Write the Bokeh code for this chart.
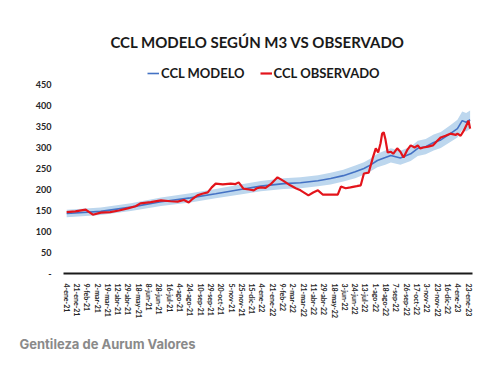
from bokeh.plotting import figure
from bokeh.models import Range1d, FixedTicker, Legend, LegendItem, Title, Label
from bokeh.embed import file_html
from bokeh.resources import INLINE

# ---- data (observation index = business-day count from 4-ene-21) ----
tick_labels = ["4-ene-21", "21-ene-21", "9-feb-21", "2-mar-21", "19-mar-21", "12-abr-21",
               "29-abr-21", "18-may-21", "8-jun-21", "28-jun-21", "16-jul-21", "4-ago-21",
               "24-ago-21", "10-sep-21", "29-sep-21", "20-oct-21", "5-nov-21", "25-nov-21",
               "15-dic-21", "4-ene-22", "21-ene-22", "9-feb-22", "2-mar-22", "21-mar-22",
               "11-abr-22", "29-abr-22", "18-may-22", "3-jun-22", "24-jun-22", "13-jul-22",
               "1-ago-22", "18-ago-22", "7-sep-22", "26-sep-22", "17-oct-22", "3-nov-22",
               "23-nov-22", "16-dic-22", "4-ene-23", "23-ene-23"]
tick_pos = [i * 13 for i in range(len(tick_labels))]

obs_x = [0, 11, 24, 33, 43, 55, 66, 77, 87, 93, 106, 119, 131, 140, 148, 154, 159, 165,
         171, 178, 183, 188, 197, 207, 213, 217, 223, 230, 236, 240, 245, 251, 257, 266,
         274, 282, 289, 295, 300, 305, 311, 317, 323, 333, 342, 346, 352, 358, 366, 371,
         375, 381, 386, 390, 393, 396, 398, 400, 402, 405, 409, 412, 417, 421, 425, 430,
         434, 439, 443, 446, 450, 456, 462, 467, 472, 478, 484, 491, 493, 497, 501, 504,
         507, 509]
obs_y = [146, 148, 152, 140, 145, 146, 150, 155, 160, 167, 170, 174, 172, 171, 175, 169,
         178, 186, 190, 193, 205, 214, 212, 214, 213, 217, 202, 200, 198, 203, 205, 204,
         212, 229, 220, 210, 203, 198, 192, 186, 193, 198, 188, 188, 188, 207, 203, 205,
         208, 210, 238, 240, 274, 298, 288, 310, 333, 336, 321, 288, 290, 285, 298, 290,
         276, 295, 305, 300, 305, 298, 300, 302, 305, 315, 324, 328, 333, 330, 333, 328,
         340, 352, 364, 345]

mod_x = [0, 43, 81, 119, 156, 188, 219, 245, 274, 295, 317, 333, 349, 364, 375, 383,
         392, 402, 409, 421, 434, 443, 453, 463, 472, 484, 493, 499, 504, 509]
mod_y = [143, 148, 158, 171, 180, 190, 200, 208, 214, 216, 221, 226, 233, 242, 250, 258,
         269, 276, 281, 275, 285, 298, 302, 312, 318, 333, 345, 364, 360, 366]
mod_lo = [134, 139, 149, 161, 169, 179, 188, 196, 201, 203, 208, 212, 219, 227, 235, 243,
          253, 259, 264, 259, 268, 280, 284, 293, 299, 313, 324, 342, 338, 344]
mod_hi = [152, 157, 167, 181, 191, 201, 212, 220, 227, 229, 234, 240, 247, 257, 265, 273,
          285, 293, 298, 292, 302, 316, 320, 331, 337, 353, 366, 386, 382, 388]

y_ticks = [0, 50, 100, 150, 200, 250, 300, 350, 400, 450]

# ---- figure ----
# frame spans the whole chart height (title and legend live in the empty top area)
p = figure(width=480, height=365, output_backend="svg", toolbar_location=None,
           x_range=Range1d(-4, 512), y_range=Range1d(0, 650),
           min_border_left=63, min_border_right=8, min_border_top=0, min_border_bottom=92)
p.outline_line_color = None
p.xgrid.visible = False
p.ygrid.visible = False
p.background_fill_color = "white"
p.border_fill_color = "white"

p.varea(x=mod_x, y1=mod_lo, y2=mod_hi, fill_color="#BDD7EE", fill_alpha=1.0)
r_mod = p.line(mod_x, mod_y, line_color="#4472C4", line_width=1.6)
r_obs = p.line(obs_x, obs_y, line_color="#E3141B", line_width=2.2)

p.yaxis.ticker = FixedTicker(ticks=y_ticks)
p.yaxis.major_label_overrides = {0: "-"}
p.yaxis.axis_line_color = None
p.yaxis.major_tick_line_color = None
p.yaxis.minor_tick_line_color = None
p.yaxis.major_label_text_font = "Lato"
p.yaxis.major_label_text_font_style = "bold"
p.yaxis.major_label_text_font_size = "9px"
p.yaxis.major_label_text_color = "#262626"
p.yaxis.major_label_standoff = 6

p.xaxis.ticker = FixedTicker(ticks=tick_pos)
p.xaxis.major_label_overrides = {t: l for t, l in zip(tick_pos, tick_labels)}
p.xaxis.major_label_orientation = "vertical"
p.xaxis.axis_line_color = "#1a1a1a"
p.xaxis.axis_line_width = 2
p.xaxis.major_tick_line_color = None
p.xaxis.minor_tick_line_color = None
p.xaxis.major_label_text_font = "Lato"
p.xaxis.major_label_text_font_style = "bold"
p.xaxis.major_label_text_font_size = "7px"
p.xaxis.major_label_text_color = "#262626"
p.xaxis.major_label_standoff = 4

legend = Legend(items=[LegendItem(label="CCL MODELO", renderers=[r_mod]),
                       LegendItem(label="CCL OBSERVADO", renderers=[r_obs])],
                orientation="horizontal", location=(84, 192),
                margin=0, padding=0, spacing=15, label_standoff=2,
                glyph_width=12, glyph_height=14, label_height=14,
                border_line_color=None, background_fill_alpha=0,
                label_text_font="Lato", label_text_font_style="bold",
                label_text_font_size="13px", label_text_color="#1a1a1a")
p.add_layout(legend, "center")

p.add_layout(Label(x=241, y=552, text="CCL MODELO SEGÚN M3 VS OBSERVADO",
                   text_align="center", text_baseline="middle", text_font="Lato",
                   text_font_style="bold", text_font_size="15px", text_color="#1a1a1a"))

p.add_layout(Title(text="Gentileza de Aurum Valores", align="left", offset=-44,
                   standoff=26, text_font="Inter", text_font_style="bold",
                   text_font_size="13px", text_color="#8a8a8a"), "below")

open("out.html", "w").write(file_html(p, INLINE))
